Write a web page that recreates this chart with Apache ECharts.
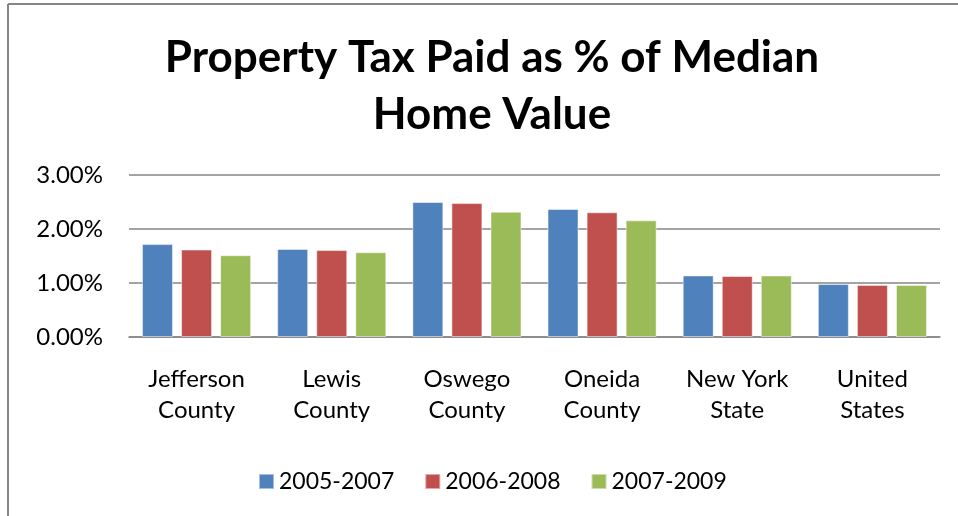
<!DOCTYPE html>
<html>
<head>
<meta charset="utf-8">
<script src="https://cdn.jsdelivr.net/npm/echarts@6/dist/echarts.min.js"></script>
<style>
  html, body { margin: 0; padding: 0; background: #fff; }
  #chart { width: 958px; height: 516px; }
</style>
</head>
<body>
<div id="chart"></div>
<script>
// areas on the x axis
const categories = ['Jefferson\nCounty', 'Lewis\nCounty', 'Oswego\nCounty', 'Oneida\nCounty', 'New York\nState', 'United\nStates']
// property tax paid as % of median home value
const s2005 = [1.72, 1.63, 2.50, 2.37, 1.14, 0.98]
const s2006 = [1.62, 1.61, 2.48, 2.31, 1.13, 0.965]
const s2007 = [1.515, 1.57, 2.32, 2.16, 1.14, 0.965]
const seriesNames = ['2005-2007', '2006-2008', '2007-2009']

const font = 'Lato, "Open Sans", sans-serif'
const colors = ['#4F81BD', '#C0504D', '#9BBB59']

let chart = echarts.init(document.getElementById('chart'))

function barSeries(name, data, color) {
  return {
    name: name,
    type: 'bar',
    barWidth: 31,
    barGap: '26%',
    itemStyle: {
      color: color,
      borderColor: 'rgba(255,255,255,0.5)',
      borderWidth: 1
    },
    data: data
  }
}

let option = {
  animation: false,
  color: colors,
  title: {
    text: 'Property Tax Paid as % of Median\nHome Value',
    left: 487,
    top: 24,
    textAlign: 'center',
    textStyle: {
      fontFamily: font,
      fontWeight: 'bold',
      fontSize: 44,
      lineHeight: 57,
      color: '#000'
    }
  },
  legend: {
    bottom: 18,
    left: 253,
    itemWidth: 15,
    itemHeight: 15,
    itemGap: 30,
    icon: 'rect',
    textStyle: { fontFamily: font, fontSize: 23, color: '#000' },
    data: seriesNames
  },
  grid: {
    left: 129,
    right: 18,
    top: 175,
    bottom: 179,
    containLabel: false
  },
  xAxis: {
    type: 'category',
    data: categories,
    axisTick: { show: false },
    axisLine: { lineStyle: { color: '#868686', width: 1.5 } },
    axisLabel: {
      interval: 0,
      margin: 27,
      fontFamily: font,
      fontSize: 24,
      lineHeight: 31,
      color: '#000'
    }
  },
  yAxis: {
    type: 'value',
    min: 0,
    max: 3,
    interval: 1,
    axisLine: { show: false },
    axisTick: { show: false },
    splitLine: { lineStyle: { color: '#868686', width: 1.5 } },
    axisLabel: {
      margin: 26,
      fontFamily: font,
      fontSize: 24,
      color: '#000',
      formatter: function (v) { return v.toFixed(2) + '%' }
    }
  },
  graphic: [
    { type: 'line', shape: { x1: 8, y1: 4, x2: 958, y2: 4 }, style: { stroke: '#868686', lineWidth: 2 } },
    { type: 'line', shape: { x1: 8, y1: 4, x2: 8, y2: 516 }, style: { stroke: '#868686', lineWidth: 2 } }
  ],
  series: [
    barSeries(seriesNames[0], s2005, colors[0]),
    barSeries(seriesNames[1], s2006, colors[1]),
    barSeries(seriesNames[2], s2007, colors[2])
  ]
}
chart.setOption(option)
</script>
</body>
</html>
